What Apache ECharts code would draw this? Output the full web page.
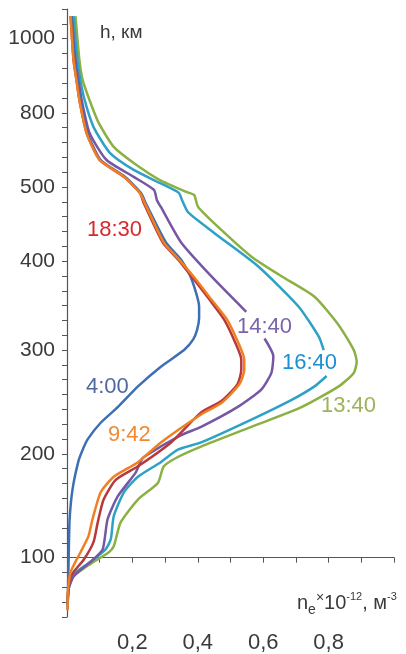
<!DOCTYPE html>
<html>
<head>
<meta charset="utf-8">
<script src="https://cdn.jsdelivr.net/npm/echarts@6/dist/echarts.min.js"></script>
<style>
  html, body { margin: 0; padding: 0; background: #fff; }
  #chart { width: 406px; height: 654px; }
</style>
</head>
<body>
<div id="chart"></div>
<script>
// height axis labels (km) and their places on the stretched axis (tick units)
const hLabels = [100, 200, 300, 400, 500, 800, 1000]
const hPlaces = [0, 7, 14, 20, 25, 30, 35]
const nLabels = [0.2, 0.4, 0.6, 0.8]

// profiles: [n_e * 1e-12 m^-3, h km]
const p0400 = [[0.014,1061],[0.023,942],[0.032,888],[0.041,834],[0.063,718],[0.103,609],[0.177,541],[0.226,492],[0.241,478],[0.303,425],[0.349,402],[0.376,384],[0.395,364],[0.404,349],[0.404,336],[0.398,323],[0.386,312],[0.358,300],[0.287,284],[0.217,265],[0.155,245],[0.103,230],[0.063,214],[0.048,204],[0.035,193],[0.017,166],[0.008,137],[0.005,98],[0.002,50]]
const p0942 = [[0.011,1061],[0.020,942],[0.029,888],[0.038,834],[0.060,718],[0.100,609],[0.174,541],[0.223,492],[0.238,478],[0.296,425],[0.343,402],[0.395,379],[0.441,357],[0.490,334],[0.524,308],[0.542,291],[0.542,281],[0.527,267],[0.472,249],[0.410,238],[0.287,211],[0.217,192],[0.143,178],[0.103,163],[0.078,137],[0.066,121],[0.041,105],[0.011,86],[0.002,63],[0.002,49]]
const p1830 = [[0.011,1061],[0.020,942],[0.029,888],[0.038,834],[0.060,718],[0.100,609],[0.174,541],[0.223,492],[0.235,478],[0.293,425],[0.340,402],[0.389,379],[0.435,357],[0.481,334],[0.515,308],[0.533,291],[0.533,281],[0.521,267],[0.472,251],[0.410,240],[0.318,211],[0.217,188],[0.149,175],[0.112,156],[0.094,134],[0.081,115],[0.051,98],[0.011,82],[0.002,60]]
const p1440 = [[0.014,1061],[0.026,942],[0.035,888],[0.045,834],[0.069,718],[0.121,609],[0.204,541],[0.266,496],[0.275,482],[0.287,473],[0.349,425],[0.441,383],[0.548,343],null,[0.604,313],[0.631,294],[0.625,278],[0.594,262],[0.521,245],[0.410,226],[0.349,218],[0.235,197],[0.226,193],[0.210,182],[0.155,159],[0.124,137],[0.109,108],[0.072,96],[0.020,82],[0.005,70],[0.002,55]]
const p1640 = [[0.020,1061],[0.032,942],[0.041,888],[0.054,834],[0.081,743],[0.131,638],[0.204,569],[0.284,516],[0.342,492],[0.352,482],[0.370,466],[0.450,438],[0.585,394],[0.708,349],[0.770,315],[0.785,300],null,[0.794,275],[0.757,265],[0.687,252],[0.564,233],[0.410,211],[0.339,204],[0.287,192],[0.217,178],[0.174,163],[0.143,140],[0.134,118],[0.118,108],[0.072,96],[0.020,84],[0.005,71],[0.002,55]]
const p1340 = [[0.026,1061],[0.038,942],[0.048,888],[0.069,834],[0.097,759],[0.143,662],[0.204,597],[0.284,528],[0.367,493],[0.389,489],[0.401,473],[0.472,442],[0.564,406],[0.656,383],[0.757,360],[0.831,328],[0.877,300],[0.886,289],[0.877,278],[0.831,265],[0.717,245],[0.564,226],[0.410,207],[0.339,197],[0.296,188],[0.278,172],[0.217,156],[0.164,134],[0.143,111],[0.127,105],[0.072,94],[0.020,82],[0.005,70],[0.002,55]]

// km -> place on the stretched axis
function hToPlace(h) {
  if (h <= hLabels[0]) return (h - 100) * 7 / 100
  if (h >= 1000) return 35 + (h - 1000) / 40
  for (let i = 1; i < hLabels.length; i++) {
    if (h <= hLabels[i]) {
      const t = (h - hLabels[i - 1]) / (hLabels[i] - hLabels[i - 1])
      return hPlaces[i - 1] + t * (hPlaces[i] - hPlaces[i - 1])
    }
  }
}

function toSeries(name, data, color) {
  return {
    name: name,
    type: 'line',
    showSymbol: false,
    smooth: 0.2,
    connectNulls: false,
    lineStyle: { color: color, width: 2.5 },
    data: data.map(p => p ? [p[0], hToPlace(p[1])] : [null, null])
  }
}

const font = 'Liberation Sans, Arial, sans-serif'
const chart = echarts.init(document.getElementById('chart'))

const option = {
  animation: false,
  grid: { left: 67, right: 12, top: 9, bottom: 36 },
  xAxis: {
    type: 'value',
    min: 0, max: 1, interval: 0.1,
    splitLine: { show: false },
    axisLine: { lineStyle: { color: '#555', width: 1.2 } },
    axisTick: { show: true, length: 5, lineStyle: { color: '#555' } },
    axisLabel: {
      margin: 15, color: '#3a3a3a', fontSize: 22, fontFamily: font,
      formatter: v => {
        const k = Math.round(v * 10)
        return nLabels.some(n => Math.round(n * 10) === k) ? ('0,' + k) : ''
      }
    }
  },
  yAxis: {
    type: 'value',
    min: -4, max: 37, interval: 1,
    splitLine: { show: false },
    axisLine: { show: true, lineStyle: { color: '#555', width: 1.2 } },
    axisTick: { show: true, length: 5, lineStyle: { color: '#555' } },
    axisLabel: {
      margin: 12, color: '#3a3a3a', fontSize: 21, fontFamily: font,
      formatter: v => {
        const i = hPlaces.findIndex(p => Math.abs(p - v) < 1e-6)
        return i >= 0 ? String(hLabels[i]) : ''
      }
    }
  },
  graphic: [
    { type: 'text', left: 100, top: 23, style: { text: 'h, км', fill: '#3a3a3a', font: '19px ' + font } },
    {
      type: 'text', left: 297, top: 589,
      style: {
        text: '{m|n}{sub|e}{x|×}{m|10}{sup|-12}{m|, м}{sup|-3}',
        fill: '#3a3a3a',
        rich: {
          m: { fontSize: 20, fontFamily: font, lineHeight: 28, fill: '#3a3a3a' },
          sub: { fontSize: 14, fontFamily: font, lineHeight: 28, verticalAlign: 'bottom', fill: '#3a3a3a' },
          x: { fontSize: 14, fontFamily: font, lineHeight: 28, verticalAlign: 'top', padding: [2, 0, 0, 0], fill: '#3a3a3a' },
          sup: { fontSize: 11, fontFamily: font, lineHeight: 28, verticalAlign: 'top', padding: [2, 0, 0, 0], fill: '#3a3a3a' }
        }
      }
    },
    { type: 'text', left: 87, top: 219, style: { text: '18:30', fill: '#d7282f', font: '22px ' + font } },
    { type: 'text', left: 86, top: 376, style: { text: '4:00', fill: '#50699a', font: '22px ' + font } },
    { type: 'text', left: 108, top: 424, style: { text: '9:42', fill: '#f08a32', font: '22px ' + font } },
    { type: 'text', left: 237, top: 316, style: { text: '14:40', fill: '#7a64a8', font: '22px ' + font } },
    { type: 'text', left: 282, top: 352, style: { text: '16:40', fill: '#1d8fd0', font: '22px ' + font } },
    { type: 'text', left: 321, top: 395, style: { text: '13:40', fill: '#9bb35a', font: '22px ' + font } }
  ],
  series: [
    toSeries('13:40', p1340, '#8bb043'),
    toSeries('16:40', p1640, '#2ea1c6'),
    toSeries('14:40', p1440, '#7657a3'),
    toSeries('4:00', p0400, '#3d6fb3'),
    toSeries('18:30', p1830, '#b8393c'),
    toSeries('9:42', p0942, '#f07f22')
  ]
}

chart.setOption(option)
</script>
</body>
</html>
